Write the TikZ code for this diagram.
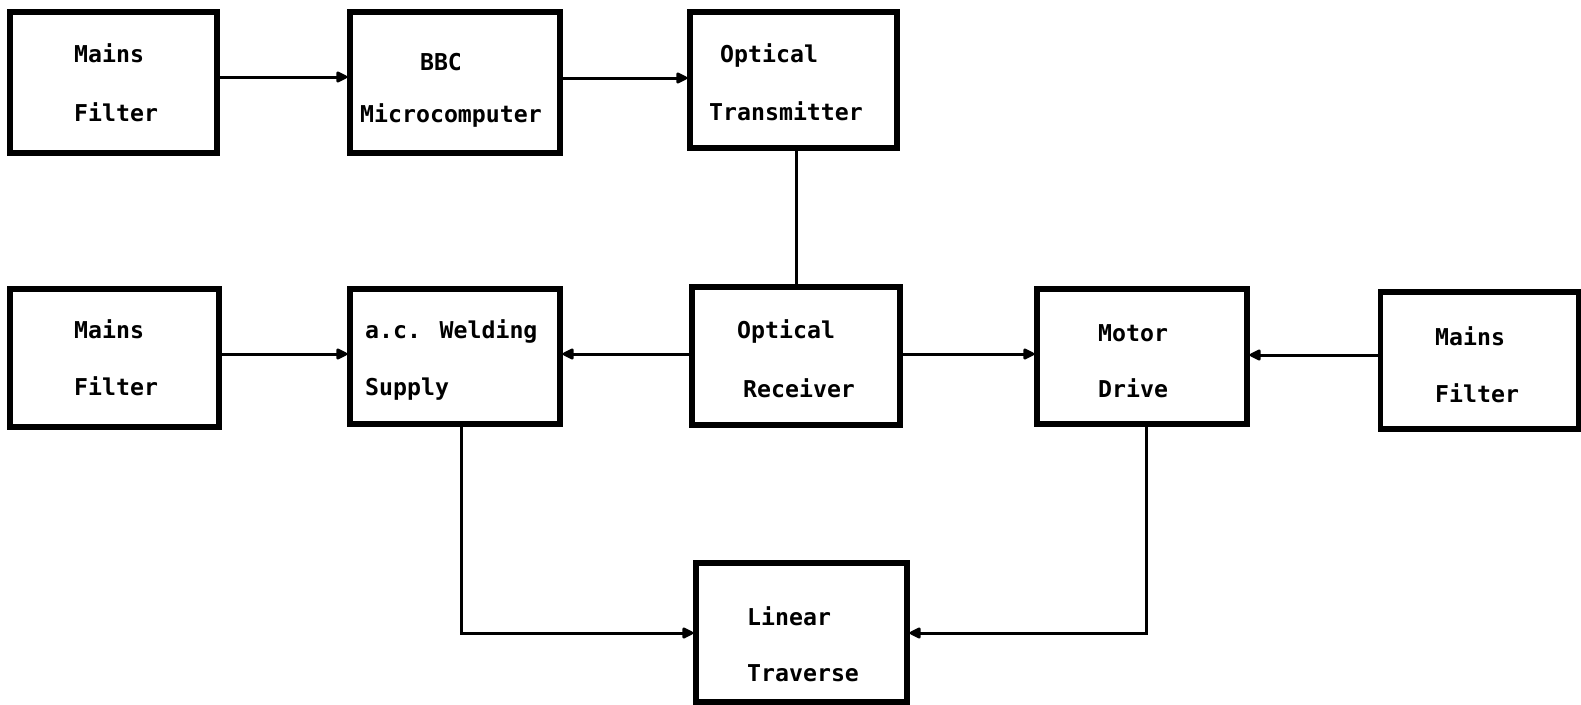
\documentclass[tikz,border=0pt]{standalone}
\usepackage{fontspec}
\newfontfamily\boxfont{DejaVu Sans Mono}
\usetikzlibrary{arrows.meta}
\begin{document}
\begin{tikzpicture}[x=1pt,y=-1pt,
  block/.style={draw=black,line width=5.5pt,rectangle,inner sep=0pt},
  txt/.style={anchor=base west,inner sep=0pt,font=\boxfont\bfseries\fontsize{23.2}{23.2}\selectfont},
  link/.style={line width=3pt,-{Triangle[length=13pt,width=12pt,round]}},
  wire/.style={line width=3pt}]
\useasboundingbox (0,0) rectangle (1581,704);
% top row
\node[block,minimum width=207pt,minimum height=141pt] (mf1) at (113.5,82.5) {};
\node[block,minimum width=210pt,minimum height=141pt] (bbc) at (455,82.5) {};
\node[block,minimum width=207pt,minimum height=136pt] (otx) at (793.5,80) {};
% middle row
\node[block,minimum width=209pt,minimum height=138pt] (mf2) at (114.5,358) {};
\node[block,minimum width=210pt,minimum height=135pt] (acw) at (455,356.5) {};
\node[block,minimum width=208pt,minimum height=138pt] (orx) at (796,356) {};
\node[block,minimum width=210pt,minimum height=135pt] (mot) at (1142,356.5) {};
\node[block,minimum width=198pt,minimum height=137pt] (mf3) at (1479.5,360.5) {};
% bottom row
\node[block,minimum width=211pt,minimum height=139pt] (lin) at (801.5,632.5) {};
% labels
\node[txt] (mf1a) at (74,62.5) {Mains};
\node[txt] (mf1b) at (74,121) {Filter};
\node[txt,anchor=base] (bbca) at (441,70) {BBC};
\node[txt] (bbcb) at (360,122) {Microcomputer};
\node[txt] (otxa) at (720,62) {Optical};
\node[txt] (otxb) at (709,120) {Transmitter};
\node[txt] (mf2a) at (74,338) {Mains};
\node[txt] (mf2b) at (74,395) {Filter};
\node[txt] (acwa) at (365,338) {a.c. Welding};
\node[txt] (acwb) at (365,395) {Supply};
\node[txt] (orxa) at (737,338) {Optical};
\node[txt] (orxb) at (743,397) {Receiver};
\node[txt] (mota) at (1098,341) {Motor};
\node[txt] (motb) at (1098,397) {Drive};
\node[txt] (mf3a) at (1435,345) {Mains};
\node[txt] (mf3b) at (1435,402) {Filter};
\node[txt] (lina) at (747,625) {Linear};
\node[txt] (linb) at (747,681) {Traverse};
% connectors
\draw[link] (mf1.east |- 0,77) -- (bbc.west |- 0,77);
\draw[link] (bbc.east |- 0,78) -- (otx.west |- 0,78);
\draw[wire] (orx.north |- otx.south) -- (orx.north);
\draw[link] (mf2.east |- 0,354) -- (acw.west |- 0,354);
\draw[link] (orx.west |- 0,354) -- (acw.east |- 0,354);
\draw[link] (orx.east |- 0,354) -- (mot.west |- 0,354);
\draw[link] (mf3.west |- 0,355) -- (mot.east |- 0,355);
\draw[link] (461,0 |- acw.south) -- (461,633) -- (lin.west |- 0,633);
\draw[link] (1146,0 |- mot.south) -- (1146,633) -- (lin.east |- 0,633);
\end{tikzpicture}
\end{document}
